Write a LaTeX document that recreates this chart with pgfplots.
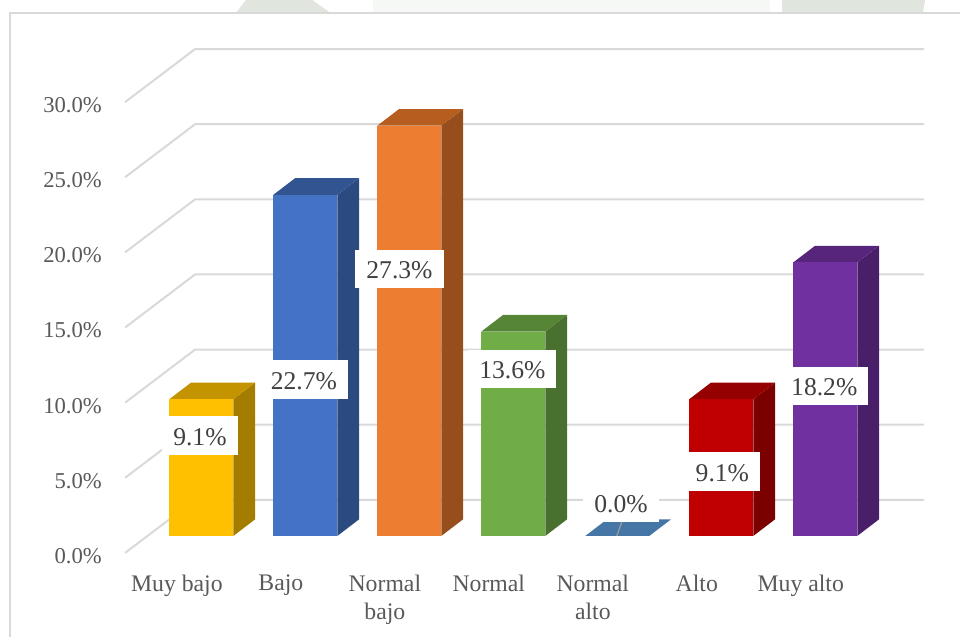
\documentclass[border=0pt]{standalone}
\usepackage{fontspec}
\setmainfont{Liberation Serif}
\usepackage{pgfplots}
\pgfplotsset{compat=1.18}

\definecolor{gridc}{HTML}{D9D9D9}
\definecolor{txt}{HTML}{595959}
\definecolor{lab}{HTML}{404040}
\definecolor{wmA}{HTML}{F6F8F6}
\definecolor{wmB}{HTML}{E0E5DD}
\definecolor{goldF}{HTML}{FFC000}\definecolor{goldT}{HTML}{C49300}\definecolor{goldS}{HTML}{A37C00}
\definecolor{blueF}{HTML}{4472C4}\definecolor{blueT}{HTML}{325592}\definecolor{blueS}{HTML}{2A4A80}
\definecolor{oranF}{HTML}{ED7D31}\definecolor{oranT}{HTML}{B65D20}\definecolor{oranS}{HTML}{964F1C}
\definecolor{grenF}{HTML}{70AD47}\definecolor{grenT}{HTML}{568536}\definecolor{grenS}{HTML}{4A7030}
\definecolor{slatF}{HTML}{4676A5}
\definecolor{redF}{HTML}{C00000}\definecolor{redT}{HTML}{950000}\definecolor{redS}{HTML}{7B0000}
\definecolor{purpF}{HTML}{7030A0}\definecolor{purpT}{HTML}{57257C}\definecolor{purpS}{HTML}{4A1F69}

\pgfplotsset{
  page/.style={width=720pt, height=477.75pt, scale only axis, clip=true,
    axis line style={draw=none}, major tick length=0pt},
}

% one 3D bar: index, value, front, top, side colours
\newcommand{\barthree}[5]{%
  \pgfmathsetmacro{\xl}{#1-0.3077}
  \pgfmathsetmacro{\xr}{#1+0.3077}
  \pgfmathsetmacro{\xbl}{\xl+0.2087}
  \pgfmathsetmacro{\xbr}{\xr+0.2087}
  \pgfmathsetmacro{\yb}{#2+1.104}
  \addplot[draw=none, fill=#5] coordinates {(\xr,0) (\xbr,1.104) (\xbr,\yb) (\xr,#2)} -- cycle;
  \addplot[draw=none, fill=#4] coordinates {(\xl,#2) (\xr,#2) (\xbr,\yb) (\xbl,\yb)} -- cycle;
  \addplot[ybar, bar width=48pt, bar shift=0pt, draw=none, fill=#3] coordinates {(#1,#2)};
}

\begin{document}
\begin{tikzpicture}
  % wall, grid and value axis: x in picture units, y = percent on the front edge of the wall
  \begin{axis}[page,
    xmin=0, xmax=960, ymin=-5.589, ymax=36.793,
    axis x line=none, axis y line=left,
    ytick={0,5,10,15,20,25,30},
    yticklabels={0.0\%,5.0\%,10.0\%,15.0\%,20.0\%,25.0\%,30.0\%},
    yticklabel style={anchor=east, xshift=76.5pt, yshift=-2.3pt, inner sep=0pt, text=txt,
      font=\fontsize{17}{21}\selectfont},
  ]
    % faint scan of the page behind the chart
    \addplot[draw=none, fill=wmA] coordinates {(373,36.0) (770,36.0) (770,36.8) (373,36.8)} -- cycle;
    \addplot[draw=none, fill=wmB] coordinates {(236,35.95) (246,36.8) (312,36.8) (330,35.95)} -- cycle;
    \addplot[draw=none, fill=wmB] coordinates {(782,35.95) (782,36.8) (925,36.8) (923,35.95)} -- cycle;
    % frame
    \addplot[gridc, line width=1.5pt] coordinates {(10,-5.589) (10,35.93) (960,35.93)};
    % grid: front edge, back corner, right end
    \addplot[gridc, line width=1.5pt] coordinates {(125,0)  (195,3.53)  (924,3.53)};
    \addplot[gridc, line width=1.5pt] coordinates {(125,5)  (195,8.53)  (924,8.53)};
    \addplot[gridc, line width=1.5pt] coordinates {(125,10) (195,13.53) (924,13.53)};
    \addplot[gridc, line width=1.5pt] coordinates {(125,15) (195,18.53) (924,18.53)};
    \addplot[gridc, line width=1.5pt] coordinates {(125,20) (195,23.53) (924,23.53)};
    \addplot[gridc, line width=1.5pt] coordinates {(125,25) (195,28.53) (924,28.53)};
    \addplot[gridc, line width=1.5pt] coordinates {(125,30) (195,33.53) (924,33.53)};
  \end{axis}

  % bars: x = category index, y = percent
  \begin{axis}[page,
    xmin=-1.9356, xmax=7.2952, ymin=-6.72, ymax=35.66,
    axis x line=bottom, axis y line=none,
    xtick={0,1,2,3,4,5,6},
    xticklabels={Muy bajo,Bajo,{Normal\\bajo},Normal,{Normal\\alto},Alto,Muy alto},
    xticklabel style={anchor=north, align=center, xshift=-18.4pt, yshift=50pt, text=txt,
      font=\fontsize{17.8}{21}\selectfont},
  ]
    \barthree{0}{9.1}{goldF}{goldT}{goldS}
    \barthree{1}{22.7}{blueF}{blueT}{blueS}
    \barthree{2}{27.3}{oranF}{oranT}{oranS}
    \barthree{3}{13.6}{grenF}{grenT}{grenS}
    \addplot[draw=none, fill=slatF] coordinates {(3.6923,0) (4.3077,0) (4.5164,1.104) (3.901,1.104)} -- cycle;
    \barthree{5}{9.1}{redF}{redT}{redS}
    \barthree{6}{18.2}{purpF}{purpT}{purpS}
    % leader of the empty bar
    \addplot[black!40, line width=1pt] coordinates {(3.995,0) (4.043,0.93)};
    % data labels, at the places where the chart puts them
    \addplot[draw=none, nodes near coords, point meta=explicit symbolic,
      every node near coord/.style={anchor=center, fill=white, text=lab, inner xsep=8.25pt, inner ysep=0pt,
        minimum height=29pt, text height=17pt, text depth=2.3pt, font=\fontsize{19.2}{21}\selectfont}]
      coordinates {
        (-0.014,6.69)[9.1\%]
        (0.986,10.41)[22.7\%]
        (1.905,17.76)[27.3\%]
        (2.99,11.11)[13.6\%]
        (4.036,2.23)[0.0\%]
        (5.01,4.29)[9.1\%]
        (5.99,9.98)[18.2\%]
      };
  \end{axis}
\end{tikzpicture}
\end{document}
